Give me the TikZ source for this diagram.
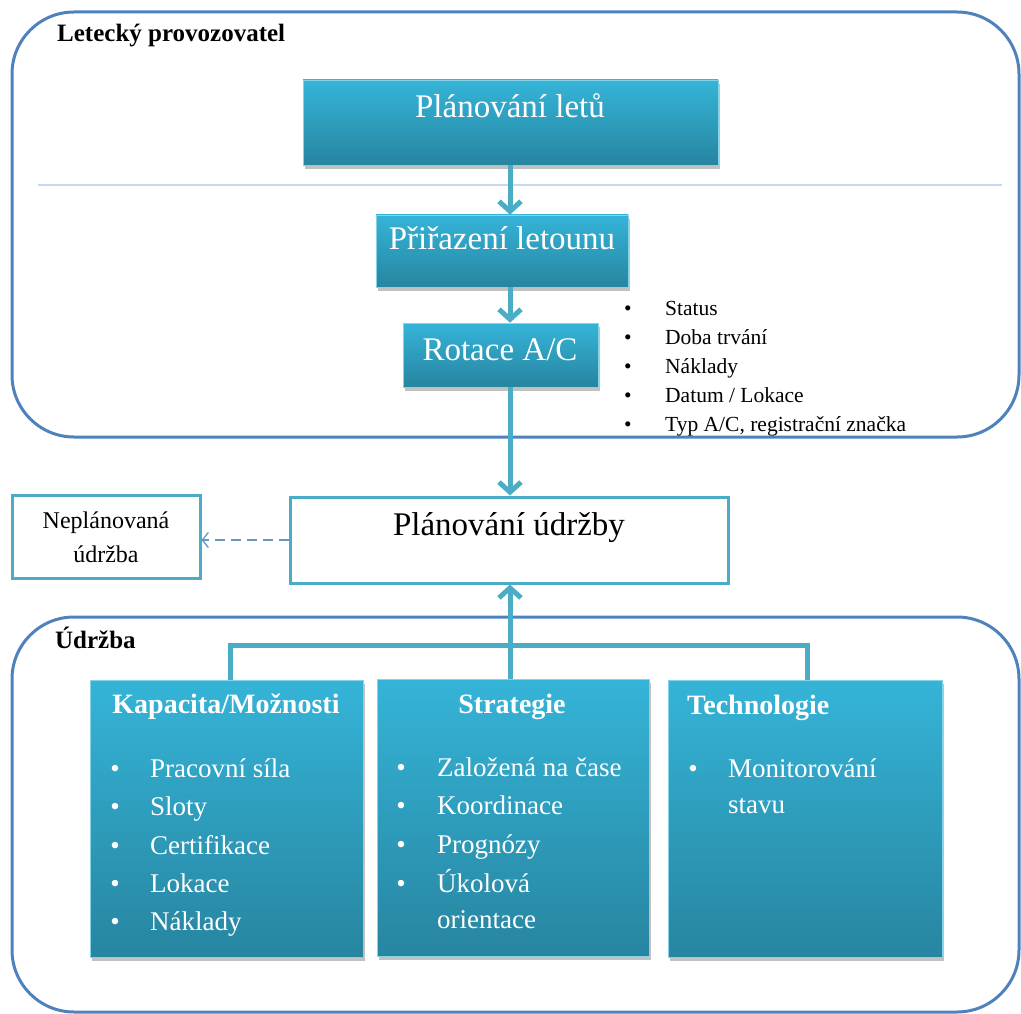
\documentclass[tikz,border=0pt]{standalone}
\usepackage{fontspec}
\setmainfont{Liberation Serif}
\usetikzlibrary{arrows.meta,shadows}

\definecolor{frameblue}{HTML}{4F81BD}
\definecolor{linkblue}{HTML}{4BACC6}
\definecolor{boxtop}{RGB}{53,180,216}
\definecolor{boxbot}{RGB}{39,133,160}
\definecolor{rulelight}{HTML}{C6D9F1}

\tikzset{
  group/.style={draw=frameblue, line width=3pt, rounded corners=62pt},
  tealbox/.style={rectangle, inner sep=0pt, top color=boxtop, bottom color=boxbot,
    draw=boxtop!60!white, line width=0.6pt,
    drop shadow={shadow xshift=2pt, shadow yshift=-4pt, opacity=0.35, fill=black!70}},
  whitebox/.style={rectangle, inner sep=0pt, draw=linkblue, line width=3pt, fill=white},
  flow/.style={draw=linkblue, line width=5pt, -{Straight Barb[length=10pt,width=22pt]}},
  link/.style={draw=linkblue, line width=5pt},
  dashlink/.style={draw=frameblue!85, line width=1.3pt, dash pattern=on 10pt off 6pt,
    -{Straight Barb[length=6pt,width=15pt]}},
  bigtext/.style={anchor=base, inner sep=0pt, font=\fontsize{33}{40}\selectfont},
  headtext/.style={anchor=base west, inner sep=0pt, font=\fontsize{25}{30}\selectfont\bfseries},
  smalltext/.style={anchor=base west, inner sep=0pt, font=\fontsize{21.5}{26}\selectfont},
  midtext/.style={anchor=base, inner sep=0pt, font=\fontsize{24}{30}\selectfont},
  dot/.style={anchor=base, inner sep=0pt},
  cardhead/.style={inner sep=0pt, text=white, font=\fontsize{28}{34}\selectfont\bfseries},
  carditem/.style={anchor=base west, inner sep=0pt, text=white, font=\fontsize{27}{33}\selectfont},
}

\begin{document}
\begin{tikzpicture}[x=1pt,y=-1pt]
  \useasboundingbox (0,0) rectangle (1021,1014);

  % group frames
  \draw[group] (12,12) rectangle (1019,437);
  \draw[group] (12,617) rectangle (1019,1012);
  \coordinate (ruleL) at (38,185);
  \coordinate (ruleR) at (1002,185);
  \draw[rulelight, line width=1.2pt] (ruleL) -- (ruleR);

  \node[headtext] (opTitle) at (57,42) {Letecký provozovatel};
  \node[headtext] (mtTitle) at (55,648) {Údržba};

  % operator chain
  \node[tealbox, minimum width=415pt, minimum height=85pt] (flights) at (510.5,122.5) {};
  \node[bigtext, text=white] (flightsT) at (510,118) {Plánování letů};
  \node[tealbox, minimum width=252pt, minimum height=72pt] (assign) at (502,251) {};
  \node[bigtext, text=white] (assignT) at (502,250) {Přiřazení letounu};
  \node[tealbox, minimum width=195pt, minimum height=64pt] (rotation) at (500.5,355) {};
  \node[bigtext, text=white] (rotationT) at (500,360) {Rotace A/C};

  % rotation attributes
  \foreach \i/\t in {0/Status, 1/Doba trvání, 2/Náklady, 3/{Datum / Lokace}, 4/{Typ A/C, registrační značka}} {
    \node[dot, font=\fontsize{21.5}{26}\selectfont] (attrDot\i) at (628,315+29*\i) {•};
    \node[smalltext] (attr\i) at (665,315+29*\i) {\t};
  }

  % maintenance planning
  \node[whitebox, minimum width=438pt, minimum height=86pt] (mplan) at (509,540) {};
  \node[bigtext] (mplanT) at (509,535) {Plánování údržby};
  \node[whitebox, minimum width=188pt, minimum height=83pt] (unplanned) at (106,536.5) {};
  \node[midtext] (unplannedT1) at (106,528) {Neplánovaná};
  \node[midtext] (unplannedT2) at (106,562) {údržba};

  % maintenance cards
  \node[tealbox, minimum width=273pt, minimum height=277pt] (cap) at (226.5,818.5) {};
  \node[tealbox, minimum width=272pt, minimum height=277pt] (strat) at (513,817.5) {};
  \node[tealbox, minimum width=274pt, minimum height=277pt] (tech) at (805,818.5) {};

  \node[cardhead, anchor=base] (capT) at (226,713) {Kapacita/Možnosti};
  \node[cardhead, anchor=base] (stratT) at (512,713) {Strategie};
  \node[cardhead, anchor=base west] (techT) at (687,714) {Technologie};

  \foreach \i/\t/\yy in {0/Pracovní síla/777, 1/Sloty/815, 2/Certifikace/854, 3/Lokace/892, 4/Náklady/930} {
    \node[dot, text=white, font=\fontsize{27}{33}\selectfont] (capDot\i) at (115,\yy) {•};
    \node[carditem] (capItem\i) at (150,\yy) {\t};
  }
  \foreach \i/\t/\yy in {0/Založená na čase/776, 1/Koordinace/814, 2/Prognózy/853, 3/Úkolová/892} {
    \node[dot, text=white, font=\fontsize{27}{33}\selectfont] (stratDot\i) at (401,\yy) {•};
    \node[carditem] (stratItem\i) at (437,\yy) {\t};
  }
  \node[carditem] (stratItem4) at (437,928) {orientace};
  \node[dot, text=white, font=\fontsize{27}{33}\selectfont] (techDot0) at (693,777) {•};
  \node[carditem] (techItem0) at (728,777) {Monitorování};
  \node[carditem] (techItem1) at (728,813) {stavu};

  % connectors
  \draw[flow] (flights.south -| 510,0) -- (assign.north -| 510,0);
  \draw[flow] (assign.south -| 510,0) -- (rotation.north -| 510,0);
  \draw[flow] (rotation.south -| 510,0) -- (mplan.north -| 510,0);
  \draw[flow] (strat.north -| 510,0) -- (mplan.south -| 510,0);
  \coordinate (barL) at (230,645);
  \coordinate (barR) at (807,645);
  \draw[link] (cap.north -| barL) -- (barL) -- (barR) -- (tech.north -| barR);
  \draw[dashlink] (mplan.west) -- (mplan.west -| unplanned.east);
\end{tikzpicture}
\end{document}
